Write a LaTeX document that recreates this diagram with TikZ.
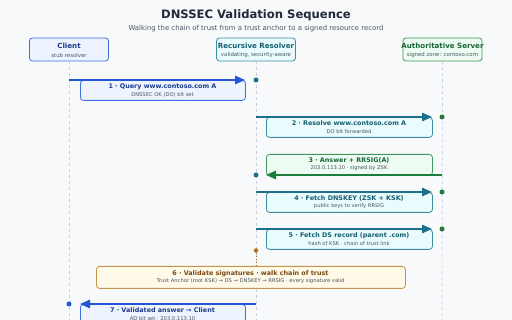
\documentclass[tikz,border=0pt]{standalone}
\usepackage{fontspec}
\setmainfont{DejaVu Sans}
\usetikzlibrary{arrows.meta}
\definecolor{bgc}{HTML}{F8F9FB}
\definecolor{titlec}{HTML}{1F2937}
\definecolor{subc}{HTML}{4B5563}
\definecolor{lifec}{HTML}{C9CED8}
\definecolor{cliB}{HTML}{3D6FE0}
\definecolor{cliF}{HTML}{EEF4FF}
\definecolor{cliT}{HTML}{1E3A8A}
\definecolor{resB}{HTML}{3A8E9E}
\definecolor{resF}{HTML}{EAFBFD}
\definecolor{resT}{HTML}{155E6E}
\definecolor{resA}{HTML}{1F6F88}
\definecolor{autB}{HTML}{3C9A5C}
\definecolor{autF}{HTML}{EEFBF2}
\definecolor{autT}{HTML}{166534}
\definecolor{autA}{HTML}{1E7D3A}
\definecolor{valB}{HTML}{C4964A}
\definecolor{valF}{HTML}{FFF9E8}
\definecolor{valT}{HTML}{7A4A12}
\definecolor{valD}{HTML}{B0701A}
\definecolor{cliA}{HTML}{2456D6}
\definecolor{mutec}{HTML}{4B5563}
\tikzset{
  hdr/.style={draw=#1, rounded corners=3pt, line width=0.8pt, minimum width=79pt, minimum height=23pt, inner sep=0pt},
  msgbox/.style={rounded corners=3pt, line width=0.8pt, inner sep=0pt, anchor=north west},
  mtitle/.style={font=\fontsize{6.4}{7}\selectfont\bfseries, text=#1, inner sep=0pt},
  msub/.style={font=\fontsize{5.2}{6}\selectfont, text=mutec, inner sep=0pt},
  htitle/.style={font=\fontsize{7.1}{8}\selectfont\bfseries, text=#1, inner sep=0pt},
  hsub/.style={font=\fontsize{5.4}{6}\selectfont, text=mutec, inner sep=0pt},
  life/.style={draw=lifec, line width=0.7pt, dash pattern=on 3pt off 3pt},
  msgarrow/.style={draw=#1, line width=1.5pt, -{Triangle[length=10pt,width=8.5pt]}},
  dotc/.style={circle, fill=#1, inner sep=0pt, minimum size=5pt}
}
\begin{document}
\begin{tikzpicture}[x=1pt,y=-1pt]
\path[use as bounding box, fill=bgc] (0,0) rectangle (512,320);
\node[font=\fontsize{11.6}{13}\selectfont\bfseries, text=titlec, inner sep=0pt] (title) at (256,15) {DNSSEC Validation Sequence};
\node[font=\fontsize{6.9}{8}\selectfont, text=subc, inner sep=0pt] (subtitle) at (256,28.5) {Walking the chain of trust from a trust anchor to a signed resource record};
% lifelines
\coordinate (cliEnd) at (69,320);
\coordinate (resEnd) at (256,320);
\coordinate (autEnd) at (442,320);
\node[hdr=cliB, fill=cliF] (cli) at (69,49.5) {};
\node[hdr=resB, fill=resF] (res) at (256,49.5) {};
\node[hdr=autB, fill=autF] (aut) at (442.5,49.5) {};
\draw[life] (cli.south) -- (cliEnd);
\draw[life] (res.south) -- (resEnd);
\draw[life] (aut.south) -- (autEnd);
\node[htitle=cliT] (cliT) at (69,46) {Client};
\node[hsub] (cliS) at (69,55.5) {stub resolver};
\node[htitle=resT] (resTt) at (256,46) {Recursive Resolver};
\node[hsub] (resS) at (256,55.5) {validating, security-aware};
\node[htitle=autT] (autTt) at (442.5,46) {Authoritative Server};
\node[hsub] (autS) at (442.5,55.5) {signed zone: contoso.com};
% message 1
\node[msgbox, draw=cliB, fill=cliF, minimum width=165pt, minimum height=20pt] (b1) at (80,80) {};
\node[mtitle=cliT] (t1) at (162.5,86.5) {1 · Query www.contoso.com A};
\node[msub] (s1) at (162.5,94.5) {DNSSEC OK (DO) bit set};
\coordinate (a1s) at (69,80);
\coordinate (a1e) at (245,80);
\draw[msgarrow=cliA] (a1s) -- (a1e);
\node[dotc=resA] (d1) at (256,80) {};
% message 2
\node[msgbox, draw=resB, fill=resF, minimum width=166pt, minimum height=20pt] (b2) at (266,117) {};
\node[mtitle=resT] (t2) at (349,123.5) {2 · Resolve www.contoso.com A};
\node[msub] (s2) at (349,131.5) {DO bit forwarded};
\coordinate (a2s) at (256,117);
\coordinate (a2e) at (432,117);
\draw[msgarrow=resA] (a2s) -- (a2e);
\node[dotc=autA] (d2) at (442,117) {};
% message 3
\node[msgbox, draw=autB, fill=autF, minimum width=166pt, minimum height=21pt] (b3) at (266,154) {};
\node[mtitle=autT] (t3) at (349,160.5) {3 · Answer + RRSIG(A)};
\node[msub] (s3) at (349,168.5) {203.0.113.10 · signed by ZSK};
\coordinate (a3s) at (442,175);
\coordinate (a3e) at (266,175);
\draw[msgarrow=autA] (a3s) -- (a3e);
\node[dotc=resA] (d3) at (256,175) {};
% message 4
\node[msgbox, draw=resB, fill=resF, minimum width=166pt, minimum height=20pt] (b4) at (266,192) {};
\node[mtitle=resT] (t4) at (349,198.5) {4 · Fetch DNSKEY (ZSK + KSK)};
\node[msub] (s4) at (349,206.5) {public keys to verify RRSIG};
\coordinate (a4s) at (256,192);
\coordinate (a4e) at (432,192);
\draw[msgarrow=resA] (a4s) -- (a4e);
\node[dotc=autA] (d4) at (442,192) {};
% message 5
\node[msgbox, draw=resB, fill=resF, minimum width=166pt, minimum height=20pt] (b5) at (266,229) {};
\node[mtitle=resT] (t5) at (349,235.5) {5 · Fetch DS record (parent .com)};
\node[msub] (s5) at (349,243.5) {hash of KSK · chain of trust link};
\coordinate (a5s) at (256,229);
\coordinate (a5e) at (432,229);
\draw[msgarrow=resA] (a5s) -- (a5e);
\node[dotc=autA] (d5) at (442,229) {};
% step 6
\node[dotc=valD, minimum size=4.5pt] (d6) at (256,250.5) {};
\node[msgbox, draw=valB, fill=valF, minimum width=309pt, minimum height=22pt] (b6) at (96,266) {};
\draw[draw=valD, line width=1pt, dash pattern=on 1.5pt off 1.5pt] (d6) -- (b6.north -| d6);
\node[mtitle=valT] (t6) at (250.5,273.5) {6 · Validate signatures · walk chain of trust};
\node[msub] (s6) at (250.5,281.5) {Trust Anchor (root KSK) → DS → DNSKEY → RRSIG · every signature valid};
% message 7
\node[msgbox, draw=cliB, fill=cliF, minimum width=165pt, minimum height=20pt] (b7) at (80,304) {};
\node[mtitle=cliT] (t7) at (162.5,310.5) {7 · Validated answer → Client};
\node[msub] (s7) at (162.5,318.5) {AD bit set · 203.0.113.10};
\coordinate (a7s) at (256,304);
\coordinate (a7e) at (80,304);
\draw[msgarrow=cliA] (a7s) -- (a7e);
\node[dotc=cliA] (d7) at (69,304) {};
\end{tikzpicture}
\end{document}
